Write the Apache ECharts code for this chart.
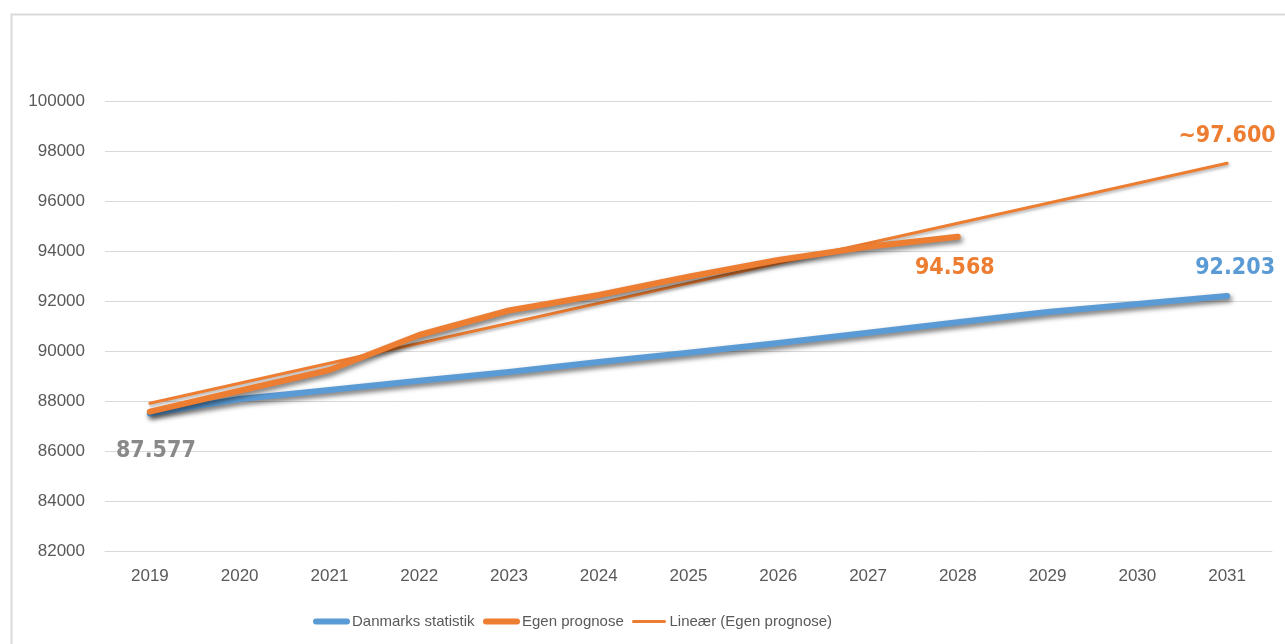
<!DOCTYPE html>
<html>
<head>
<meta charset="utf-8">
<script src="https://cdn.jsdelivr.net/npm/echarts@6/dist/echarts.min.js"></script>
<style>
  html, body { margin: 0; padding: 0; background: #ffffff; }
  #chart { width: 1285px; height: 644px; }
</style>
</head>
<body>
<div id="chart"></div>
<script>
// ---- data ----
const years = ['2019','2020','2021','2022','2023','2024','2025','2026','2027','2028','2029','2030','2031'];
const danmarksStatistik = [87500, 88080, 88440, 88810, 89160, 89560, 89930, 90320, 90730, 91150, 91560, 91880, 92203];
const egenPrognose = [87577, 88410, 89240, 90640, 91620, 92240, 92970, 93640, 94170, 94568, null, null, null];
// linear trend line: read endpoints only (straight line between them)
const trendLine = [87910, null, null, null, null, null, null, null, null, null, null, null, 97510];
const seriesNames = ['Danmarks statistik', 'Egen prognose', 'Lineær (Egen prognose)'];
const yTicks = { min: 82000, max: 100000, step: 2000 };
// annotation labels: [series index, data index, text]
const annotations = [
  [1, 0, '87.577'],
  [1, 9, '94.568'],
  [0, 12, '92.203'],
  [2, 12, '~97.600']
];

// ---- styling ----
const BLUE = '#5B9BD5';
const ORANGE = '#ED7D31';
const GREY_LABEL = '#898989';
const annStyle = [
  { color: GREY_LABEL, offset: [6, 39] },
  { color: ORANGE, offset: [-3, 31] },
  { color: BLUE, offset: [8, -28] },
  { color: ORANGE, offset: [0, -27] }
];
const seriesValues = [danmarksStatistik, egenPrognose, trendLine];

function markPointsFor(sIdx) {
  const out = [];
  annotations.forEach((a, k) => {
    if (a[0] !== sIdx) return;
    out.push({
      coord: [a[1], seriesValues[sIdx][a[1]]],
      symbol: 'circle', symbolSize: 0,
      label: {
        show: true,
        position: 'inside',
        offset: annStyle[k].offset,
        formatter: () => a[2],
        color: annStyle[k].color,
        fontFamily: 'DejaVu Sans Condensed',
        fontWeight: 'bold',
        fontSize: 23
      }
    });
  });
  return { silent: true, animation: false, data: out };
}

const shadowThick = { shadowColor: 'rgba(0,0,0,0.55)', shadowBlur: 5, shadowOffsetX: 2, shadowOffsetY: 3 };
const shadowThin = { shadowColor: 'rgba(0,0,0,0.3)', shadowBlur: 3, shadowOffsetX: 1, shadowOffsetY: 2 };

const legendPos = [313, 483, 632];
const legendWidths = [6, 6, 3];
const legendColors = [BLUE, ORANGE, ORANGE];

const chart = echarts.init(document.getElementById('chart'), null, { renderer: 'canvas' });
chart.setOption({
  animation: false,
  backgroundColor: '#ffffff',
  graphic: [{
    type: 'rect',
    left: 9, top: 12,
    shape: { width: 1300, height: 700 },
    style: { fill: 'none', stroke: '#d9d9d9', lineWidth: 2 },
    silent: true, z: -10
  }],
  grid: { left: 105, right: 13, top: 101, bottom: 93, containLabel: false },
  legend: seriesNames.map((n, i) => ({
    left: legendPos[i],
    top: 614,
    padding: 0,
    itemWidth: 31,
    itemHeight: 12,
    selectedMode: false,
    data: [{ name: n, itemStyle: { opacity: 0 }, lineStyle: { width: legendWidths[i], color: legendColors[i], cap: 'round', shadowBlur: 0 } }],
    textStyle: { color: '#595959', fontSize: 15, fontFamily: 'Liberation Sans, sans-serif' }
  })),
  xAxis: {
    type: 'category',
    data: years,
    boundaryGap: true,
    axisLine: { show: true, lineStyle: { color: '#d9d9d9', width: 1 } },
    axisTick: { show: false },
    axisLabel: { color: '#595959', fontSize: 17, fontFamily: 'Liberation Sans, sans-serif', margin: 17 }
  },
  yAxis: {
    type: 'value',
    min: yTicks.min, max: yTicks.max, interval: yTicks.step,
    axisLine: { show: false },
    axisTick: { show: false },
    splitLine: { lineStyle: { color: '#d9d9d9', width: 1 } },
    axisLabel: { color: '#595959', fontSize: 17, fontFamily: 'Liberation Sans, sans-serif', margin: 20,
      formatter: v => String(v) }
  },
  series: [
    {
      name: seriesNames[0], type: 'line', data: danmarksStatistik,
      symbol: 'none', z: 2, color: BLUE,
      lineStyle: Object.assign({ color: BLUE, width: 6, cap: 'round', join: 'round' }, shadowThick),
      markPoint: markPointsFor(0)
    },
    {
      name: seriesNames[2], type: 'line', data: trendLine, connectNulls: true,
      symbol: 'none', z: 3, color: ORANGE,
      lineStyle: Object.assign({ color: ORANGE, width: 3, cap: 'round' }, shadowThin),
      markPoint: markPointsFor(2)
    },
    {
      name: seriesNames[1], type: 'line', data: egenPrognose,
      symbol: 'none', z: 4, color: ORANGE,
      lineStyle: Object.assign({ color: ORANGE, width: 6, cap: 'round', join: 'round' }, shadowThick),
      markPoint: markPointsFor(1)
    }
  ]
});
</script>
</body>
</html>
